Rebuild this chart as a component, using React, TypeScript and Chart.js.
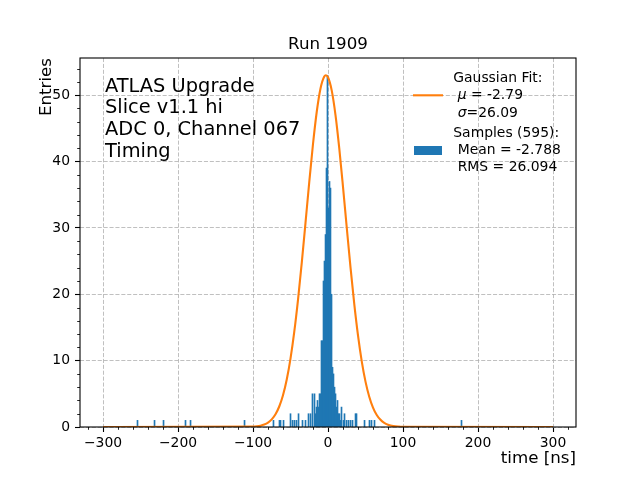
import React, { useEffect, useRef } from "react";
import { Chart, registerables } from "chart.js";

Chart.register(...registerables);

// ---- Data ----
// Histogram bins: bin centre time [ns] and entries
const binTimes = [
  -254.0, -231.3, -219.3, -190.0, -183.3, -111.3, -72.7, -64.7, -63.3, -59.3,
  -50.0, -47.3, -44.7, -42.0, -39.3, -34.0, -30.0, -26.0, -23.3, -20.7,
  -18.0, -16.7, -15.3, -14.0, -12.7, -11.3, -10.0, -8.7, -7.3, -6.0,
  -4.7, -3.3, -2.0, -0.7, 0.7, 2.0, 3.3, 4.7, 6.0, 7.3,
  8.7, 10.0, 11.3, 12.7, 14.0, 15.3, 16.7, 18.0, 20.7, 22.0,
  24.7, 27.3, 30.0, 32.7, 36.7, 38.0, 48.7, 55.3, 58.0, 62.0,
  178.0,
];
const binCounts = [
  1, 1, 1, 1, 1, 1, 1, 1, 1, 1,
  2, 1, 1, 1, 2, 1, 1, 2, 2, 5,
  5, 2, 3, 4, 3, 5, 5, 13, 13, 22,
  25, 29, 39, 53, 33, 37, 36, 20, 9, 8,
  6, 5, 3, 4, 2, 2, 1, 3, 1, 2,
  1, 1, 1, 1, 2, 2, 1, 1, 1, 1,
  1,
];

// Gaussian fit curve
const fitTimes = [
  -300, -100, -95, -90, -85, -80, -75, -70, -65, -60, -55, -50, -45, -40, -35,
  -30, -25, -20, -15, -10, -5, -2.8, 0, 5, 10, 15, 20, 25, 30, 35, 40, 45, 50,
  55, 60, 65, 70, 75, 80, 85, 90, 95, 100, 300,
];
const fitValues = [
  0, 0.05, 0.1, 0.2, 0.37, 0.66, 1.15, 1.92, 3.09, 4.79, 7.16, 10.31, 14.32, 19.17, 24.73,
  30.77, 36.89, 42.64, 47.5, 51.01, 52.81, 53.0, 52.7, 50.69, 47.0, 42.01, 36.19, 30.06, 24.06, 18.56, 13.81, 9.9, 6.84,
  4.56, 2.93, 1.81, 1.08, 0.62, 0.34, 0.18, 0.09, 0.05, 0.02, 0,
];

const xTickValues = [-300, -200, -100, 0, 100, 200, 300];
const yTickValues = [0, 10, 20, 30, 40, 50];

const titleText = "Run 1909";
const xLabelText = "time [ns]";
const yLabelText = "Entries";
const infoLines = ["ATLAS Upgrade", "Slice v1.1 hi", "ADC 0, Channel 067", "Timing"];
const fitLegendTitle = "Gaussian Fit:";
const fitMuText = " = -2.79";
const fitSigmaText = "=26.09";
const sampleLegendLines = ["Samples (595):", " Mean = -2.788", " RMS = 26.094"];

const FONT = '"DejaVu Sans", "Liberation Sans", sans-serif';
const BLUE = "#1f77b4";
const ORANGE = "#ff7f0e";

const fmtTick = (v: number) => (v < 0 ? "\u2212" + Math.abs(v) : String(v));

const decorPlugin = {
  id: "decor",
  afterDraw(chart: any) {
    const { ctx, chartArea, scales } = chart;
    const { left, right, top, bottom } = chartArea;
    ctx.save();

    // minor ticks
    ctx.strokeStyle = "#000";
    ctx.lineWidth = 0.85;
    ctx.beginPath();
    for (let v = -320; v <= 320; v += 20) {
      if (v % 100 === 0) continue;
      const px = Math.round(scales.x.getPixelForValue(v)) + 0.5;
      ctx.moveTo(px, bottom);
      ctx.lineTo(px, bottom + 2.8);
    }
    for (let v = 2; v <= 54; v += 2) {
      if (v % 10 === 0) continue;
      const py = Math.round(scales.y.getPixelForValue(v)) + 0.5;
      ctx.moveTo(left, py);
      ctx.lineTo(left - 2.8, py);
    }
    ctx.stroke();

    // spines
    ctx.lineWidth = 1.1;
    ctx.strokeStyle = "#000";
    ctx.strokeRect(left, top, right - left, bottom - top);

    ctx.fillStyle = "#000";
    // title
    ctx.font = `16.7px ${FONT}`;
    ctx.textAlign = "center";
    ctx.textBaseline = "alphabetic";
    ctx.fillText(titleText, (left + right) / 2, top - 9);

    // x label
    ctx.textAlign = "right";
    ctx.fillText(xLabelText, right, 463);

    // y label
    ctx.save();
    ctx.translate(51, top);
    ctx.rotate(-Math.PI / 2);
    ctx.textAlign = "right";
    ctx.fillText(yLabelText, 0, 0);
    ctx.restore();

    // info text box
    ctx.font = `19.4px ${FONT}`;
    ctx.textAlign = "left";
    infoLines.forEach((line, i) => {
      ctx.fillText(line, left + 25, top + 33.5 + i * 21.9);
    });

    // legend
    const lx = right - 122.7;
    ctx.font = `13.9px ${FONT}`;
    ctx.fillText(fitLegendTitle, lx, top + 23.7);
    // mu line
    let x = lx;
    ctx.font = `13.9px ${FONT}`;
    x += ctx.measureText(" ").width;
    ctx.font = `italic 13.9px ${FONT}`;
    ctx.fillText("\u03bc", x, top + 41);
    x += ctx.measureText("\u03bc").width;
    ctx.font = `13.9px ${FONT}`;
    ctx.fillText(fitMuText, x, top + 41);
    // sigma line
    x = lx;
    x += ctx.measureText(" ").width;
    ctx.font = `italic 13.9px ${FONT}`;
    ctx.fillText("\u03c3", x, top + 58.7);
    x += ctx.measureText("\u03c3").width;
    ctx.font = `13.9px ${FONT}`;
    ctx.fillText(fitSigmaText, x, top + 58.7);

    sampleLegendLines.forEach((line, i) => {
      ctx.fillText(line, lx, top + 79.3 + i * 16.6);
    });

    // legend handles
    ctx.strokeStyle = ORANGE;
    ctx.lineWidth = 2.1;
    ctx.beginPath();
    ctx.moveTo(right - 163, top + 37.3);
    ctx.lineTo(right - 133, top + 37.3);
    ctx.stroke();
    ctx.fillStyle = BLUE;
    ctx.fillRect(right - 162, top + 88, 28, 9);

    ctx.restore();
  },
};

export default function App() {
  const canvasRef = useRef<HTMLCanvasElement | null>(null);

  useEffect(() => {
    const canvas = canvasRef.current;
    if (!canvas) return;
    const chart = new Chart(canvas, {
      type: "bar",
      data: {
        datasets: [
          {
            type: "line",
            label: "Gaussian Fit",
            data: fitTimes.map((t, i) => ({ x: t, y: fitValues[i] })),
            borderColor: ORANGE,
            borderWidth: 2.1,
            pointRadius: 0,
            cubicInterpolationMode: "monotone",
            fill: false,
            order: 0,
          } as any,
          {
            type: "bar",
            label: "Samples",
            data: binTimes.map((t, i) => ({ x: t, y: binCounts[i] })),
            backgroundColor: BLUE,
            borderWidth: 0,
            barThickness: 1,
            order: 1,
          } as any,
        ],
      },
      options: {
        animation: false,
        responsive: false,
        devicePixelRatio: 1,
        layout: { padding: { left: 0, right: 64, top: 58, bottom: 0 } },
        plugins: {
          legend: { display: false },
          tooltip: { enabled: false },
          title: { display: false },
        },
        scales: {
          x: {
            type: "linear",
            min: -992 / 3,
            max: 992 / 3,
            offset: false,
            afterBuildTicks: (s: any) => {
              s.ticks = xTickValues.map((v) => ({ value: v }));
            },
            afterFit: (s: any) => {
              s.height = 53;
            },
            grid: {
              color: "#b0b0b0",
              lineWidth: 0.8,
              offset: false,
              drawTicks: true,
              tickLength: 5,
              tickColor: "#000",
              tickWidth: 1.1,
              tickBorderDash: [],
            },
            border: { display: false, dash: [4.1, 1.8] },
            ticks: {
              color: "#000",
              font: { family: FONT, size: 13.9 },
              padding: 3,
              maxRotation: 0,
              autoSkip: false,
              callback: (v: any) => fmtTick(Number(v)),
            },
          },
          y: {
            type: "linear",
            min: 0,
            max: 55.6,
            afterBuildTicks: (s: any) => {
              s.ticks = yTickValues.map((v) => ({ value: v }));
            },
            afterFit: (s: any) => {
              s.width = 80;
            },
            grid: {
              color: "#b0b0b0",
              lineWidth: 0.8,
              drawTicks: true,
              tickLength: 5,
              tickColor: "#000",
              tickWidth: 1.1,
              tickBorderDash: [],
            },
            border: { display: false, dash: [4.1, 1.8] },
            ticks: {
              color: "#000",
              font: { family: FONT, size: 13.9 },
              padding: 5,
              autoSkip: false,
              callback: (v: any) => fmtTick(Number(v)),
            },
          },
        },
      } as any,
      plugins: [decorPlugin],
    });
    return () => chart.destroy();
  }, []);

  return (
    <div style={{ position: "absolute", left: 0, top: 0, width: 640, height: 480, background: "#fff" }}>
      <canvas ref={canvasRef} width={640} height={480} style={{ width: 640, height: 480 }} />
    </div>
  );
}
